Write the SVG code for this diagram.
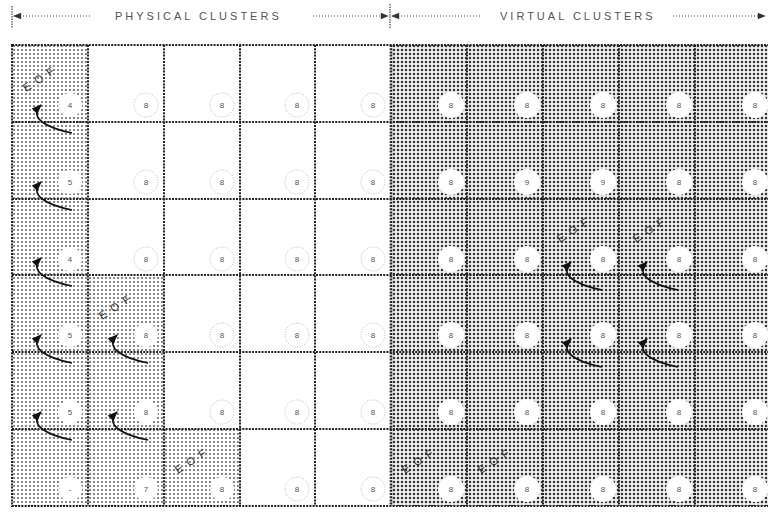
<svg xmlns="http://www.w3.org/2000/svg" width="768" height="512" viewBox="0 0 768 512">
<defs>
<pattern id="light" width="4" height="4" patternUnits="userSpaceOnUse">
<rect width="4" height="4" fill="#ffffff"/>
<circle cx="2" cy="2" r="0.95" fill="#555"/>
</pattern>
<pattern id="dark" width="4" height="4" patternUnits="userSpaceOnUse">
<rect width="4" height="4" fill="#f0f0f0"/>
<circle cx="2" cy="2" r="1.25" fill="#333"/>
</pattern>
<marker id="ah" viewBox="0 0 10 10" refX="9" refY="5" markerWidth="11" markerHeight="10" markerUnits="userSpaceOnUse" orient="auto">
<path d="M0,1 L10,5 L0,9 Z" fill="#111"/>
</marker>
<marker id="hd" viewBox="0 0 10 10" refX="9" refY="5" markerWidth="9" markerHeight="8" markerUnits="userSpaceOnUse" orient="auto">
<path d="M0,1 L10,5 L0,9 Z" fill="#333"/>
</marker>
</defs>
<style>
.w{fill:#fff}
.l{fill:url(#light)}
.d{fill:url(#dark)}
.grid{stroke:#222;stroke-width:2;stroke-dasharray:2 1.2;fill:none}
.c{fill:#fff}
.co{fill:#fff;stroke:#bbb;stroke-width:1;stroke-dasharray:1 1.5}
.n{font-family:"Liberation Sans",sans-serif;font-size:8px;fill:#555;text-anchor:middle}
.eof{font-family:"Liberation Sans",sans-serif;font-size:11px;fill:#333;letter-spacing:6px}
.hdr{font-family:"Liberation Sans",sans-serif;font-size:11px;fill:#555;letter-spacing:3px}
.dl{stroke:#444;stroke-width:1;stroke-dasharray:1 2;fill:none}
.tick{stroke:#444;stroke-width:1.2;stroke-dasharray:1.5 1}
.arr{fill:none;stroke:#111;stroke-width:1.6;marker-end:url(#ah)}
</style>

<g id="header">
<line class="tick" x1="12" y1="6" x2="12" y2="28"/>
<line class="dl" x1="90" y1="16" x2="14" y2="16" marker-end="url(#hd)"/>
<text class="hdr" x="115" y="20">PHYSICAL CLUSTERS</text>
<line class="dl" x1="313" y1="16" x2="388" y2="16" marker-end="url(#hd)"/>
<line class="tick" x1="390" y1="4" x2="390" y2="28"/>
<line class="dl" x1="480" y1="16" x2="392" y2="16" marker-end="url(#hd)"/>
<text class="hdr" x="500" y="20">VIRTUAL CLUSTERS</text>
<line class="dl" x1="673" y1="16" x2="765" y2="16" marker-end="url(#hd)"/>
</g>

<g id="cells">
<rect class="l" x="12" y="45" width="76" height="77"/>
<rect class="w" x="88" y="45" width="303" height="77"/>
<rect class="d" x="391" y="45" width="377" height="461"/>
<rect class="l" x="12" y="122" width="76" height="77"/>
<rect class="w" x="88" y="122" width="303" height="77"/>
<rect class="l" x="12" y="199" width="76" height="76"/>
<rect class="w" x="88" y="199" width="303" height="76"/>
<rect class="l" x="12" y="275" width="152" height="77"/>
<rect class="w" x="164" y="275" width="227" height="77"/>
<rect class="l" x="12" y="352" width="152" height="77"/>
<rect class="w" x="164" y="352" width="227" height="77"/>
<rect class="l" x="12" y="429" width="228" height="77"/>
<rect class="w" x="240" y="429" width="151" height="77"/>
</g>

<g id="grid" class="grid">
<rect x="12" y="45" width="780" height="461"/>
<line x1="88" y1="45" x2="88" y2="506"/>
<line x1="164" y1="45" x2="164" y2="506"/>
<line x1="240" y1="45" x2="240" y2="506"/>
<line x1="315" y1="45" x2="315" y2="506"/>
<line x1="391" y1="45" x2="391" y2="506" stroke-width="2.6"/>
<line x1="467" y1="45" x2="467" y2="506"/>
<line x1="543" y1="45" x2="543" y2="506"/>
<line x1="619" y1="45" x2="619" y2="506"/>
<line x1="695" y1="45" x2="695" y2="506"/>
<line x1="12" y1="122" x2="768" y2="122"/>
<line x1="12" y1="199" x2="768" y2="199"/>
<line x1="12" y1="275" x2="768" y2="275"/>
<line x1="12" y1="352" x2="768" y2="352"/>
<line x1="12" y1="429" x2="768" y2="429"/>
</g>

<g id="circles">
<circle class="c" cx="70" cy="105" r="12"/><text class="n" x="70" y="108">4</text>
<circle class="c" cx="70" cy="182" r="12"/><text class="n" x="70" y="185">5</text>
<circle class="c" cx="70" cy="259" r="12"/><text class="n" x="70" y="262">4</text>
<circle class="c" cx="70" cy="335" r="12"/><text class="n" x="70" y="338">5</text>
<circle class="c" cx="70" cy="412" r="12"/><text class="n" x="70" y="415">5</text>
<circle class="c" cx="70" cy="489" r="12"/><text class="n" x="70" y="492">-</text>
<circle class="co" cx="146" cy="105" r="12"/><text class="n" x="146" y="108">8</text>
<circle class="co" cx="146" cy="182" r="12"/><text class="n" x="146" y="185">8</text>
<circle class="co" cx="146" cy="259" r="12"/><text class="n" x="146" y="262">8</text>
<circle class="c" cx="146" cy="335" r="12"/><text class="n" x="146" y="338">8</text>
<circle class="c" cx="146" cy="412" r="12"/><text class="n" x="146" y="415">8</text>
<circle class="c" cx="146" cy="489" r="12"/><text class="n" x="146" y="492">7</text>
<circle class="co" cx="222" cy="105" r="12"/><text class="n" x="222" y="108">8</text>
<circle class="co" cx="222" cy="182" r="12"/><text class="n" x="222" y="185">8</text>
<circle class="co" cx="222" cy="259" r="12"/><text class="n" x="222" y="262">8</text>
<circle class="co" cx="222" cy="335" r="12"/><text class="n" x="222" y="338">8</text>
<circle class="co" cx="222" cy="412" r="12"/><text class="n" x="222" y="415">8</text>
<circle class="c" cx="222" cy="489" r="12"/><text class="n" x="222" y="492">8</text>
<circle class="co" cx="297" cy="105" r="12"/><text class="n" x="297" y="108">8</text>
<circle class="co" cx="297" cy="182" r="12"/><text class="n" x="297" y="185">8</text>
<circle class="co" cx="297" cy="259" r="12"/><text class="n" x="297" y="262">8</text>
<circle class="co" cx="297" cy="335" r="12"/><text class="n" x="297" y="338">8</text>
<circle class="co" cx="297" cy="412" r="12"/><text class="n" x="297" y="415">8</text>
<circle class="co" cx="297" cy="489" r="12"/><text class="n" x="297" y="492">8</text>
<circle class="co" cx="373" cy="105" r="12"/><text class="n" x="373" y="108">8</text>
<circle class="co" cx="373" cy="182" r="12"/><text class="n" x="373" y="185">8</text>
<circle class="co" cx="373" cy="259" r="12"/><text class="n" x="373" y="262">8</text>
<circle class="co" cx="373" cy="335" r="12"/><text class="n" x="373" y="338">8</text>
<circle class="co" cx="373" cy="412" r="12"/><text class="n" x="373" y="415">8</text>
<circle class="co" cx="373" cy="489" r="12"/><text class="n" x="373" y="492">8</text>
<circle class="c" cx="451" cy="105" r="13"/><text class="n" x="451" y="108">8</text>
<circle class="c" cx="527" cy="105" r="13"/><text class="n" x="527" y="108">8</text>
<circle class="c" cx="603" cy="105" r="13"/><text class="n" x="603" y="108">8</text>
<circle class="c" cx="679" cy="105" r="13"/><text class="n" x="679" y="108">8</text>
<circle class="c" cx="755" cy="105" r="13"/><text class="n" x="755" y="108">8</text>
<circle class="c" cx="451" cy="182" r="13"/><text class="n" x="451" y="185">8</text>
<circle class="c" cx="527" cy="182" r="13"/><text class="n" x="527" y="185">9</text>
<circle class="c" cx="603" cy="182" r="13"/><text class="n" x="603" y="185">9</text>
<circle class="c" cx="679" cy="182" r="13"/><text class="n" x="679" y="185">8</text>
<circle class="c" cx="755" cy="182" r="13"/><text class="n" x="755" y="185">8</text>
<circle class="c" cx="451" cy="259" r="13"/><text class="n" x="451" y="262">8</text>
<circle class="c" cx="527" cy="259" r="13"/><text class="n" x="527" y="262">8</text>
<circle class="c" cx="603" cy="259" r="13"/><text class="n" x="603" y="262">8</text>
<circle class="c" cx="679" cy="259" r="13"/><text class="n" x="679" y="262">8</text>
<circle class="c" cx="755" cy="259" r="13"/><text class="n" x="755" y="262">8</text>
<circle class="c" cx="451" cy="335" r="13"/><text class="n" x="451" y="338">8</text>
<circle class="c" cx="527" cy="335" r="13"/><text class="n" x="527" y="338">8</text>
<circle class="c" cx="603" cy="335" r="13"/><text class="n" x="603" y="338">8</text>
<circle class="c" cx="679" cy="335" r="13"/><text class="n" x="679" y="338">8</text>
<circle class="c" cx="755" cy="335" r="13"/><text class="n" x="755" y="338">8</text>
<circle class="c" cx="451" cy="412" r="13"/><text class="n" x="451" y="415">8</text>
<circle class="c" cx="527" cy="412" r="13"/><text class="n" x="527" y="415">8</text>
<circle class="c" cx="603" cy="412" r="13"/><text class="n" x="603" y="415">8</text>
<circle class="c" cx="679" cy="412" r="13"/><text class="n" x="679" y="415">8</text>
<circle class="c" cx="755" cy="412" r="13"/><text class="n" x="755" y="415">8</text>
<circle class="c" cx="451" cy="489" r="13"/><text class="n" x="451" y="492">8</text>
<circle class="c" cx="527" cy="489" r="13"/><text class="n" x="527" y="492">8</text>
<circle class="c" cx="603" cy="489" r="13"/><text class="n" x="603" y="492">8</text>
<circle class="c" cx="679" cy="489" r="13"/><text class="n" x="679" y="492">8</text>
<circle class="c" cx="755" cy="489" r="13"/><text class="n" x="755" y="492">8</text>
</g>

<g id="eof-labels">
<text class="eof" transform="translate(26,92) rotate(-33)">EOF</text>
<text class="eof" transform="translate(102,320) rotate(-33)">EOF</text>
<text class="eof" transform="translate(178,474) rotate(-33)">EOF</text>
<text class="eof" transform="translate(560,243) rotate(-33)">EOF</text>
<text class="eof" transform="translate(636,243) rotate(-33)">EOF</text>
<text class="eof" transform="translate(405,474) rotate(-33)">EOF</text>
<text class="eof" transform="translate(481,474) rotate(-33)">EOF</text>
</g>

<g id="connectors">
<path class="arr" d="M72,133 C47,128 28,118 41,105"/>
<path class="arr" d="M72,210 C47,205 28,195 41,182"/>
<path class="arr" d="M72,286 C47,281 28,271 41,258"/>
<path class="arr" d="M72,363 C47,358 28,348 41,335"/>
<path class="arr" d="M72,440 C47,435 28,425 41,412"/>
<path class="arr" d="M148,440 C123,435 104,425 117,412"/>
<path class="arr" d="M148,363 C123,358 104,348 117,335"/>
<path class="arr" d="M602,290 C577,285 558,275 571,262"/>
<path class="arr" d="M678,290 C653,285 634,275 647,262"/>
<path class="arr" d="M602,367 C577,362 558,352 571,339"/>
<path class="arr" d="M678,367 C653,362 634,352 647,339"/>
</g>
</svg>
